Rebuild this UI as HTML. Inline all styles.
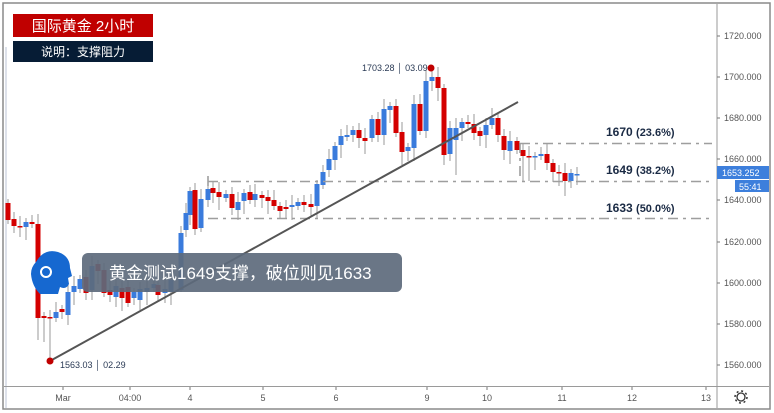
<!DOCTYPE html>
<html><head><meta charset="utf-8"><style>
html,body{margin:0;padding:0;background:#fff;}
body{width:774px;height:413px;overflow:hidden;position:relative;font-family:"Liberation Sans","Noto Sans CJK SC",sans-serif;}
</style></head><body>
<svg id="s" width="774" height="413" viewBox="0 0 774 413" xmlns="http://www.w3.org/2000/svg" style="position:absolute;left:0;top:0">
<rect x="3" y="3" width="767" height="406" fill="#fff" stroke="#8a8a8a" stroke-width="1.5"/>
<line x1="6" y1="47" x2="6" y2="408" stroke="#dde1ea" stroke-width="2"/>
<line x1="717" y1="4" x2="717" y2="408" stroke="#9a9a9a" stroke-width="1"/>
<line x1="4" y1="386.5" x2="769" y2="386.5" stroke="#9a9a9a" stroke-width="1"/>
<g id="cd"></g>
<g stroke="#9e9e9e" stroke-width="1.6" stroke-dasharray="10,5,3,5" fill="none">
<line x1="520" y1="143.5" x2="712" y2="143.5"/>
<line x1="208" y1="181.5" x2="712" y2="181.5"/>
<line x1="208" y1="218.5" x2="712" y2="218.5"/>
<line x1="208" y1="176" x2="208" y2="190"/>
<line x1="520" y1="143" x2="520" y2="181"/>
</g>
<line x1="50" y1="361" x2="518" y2="102" stroke="#555" stroke-width="2"/>
<circle cx="50" cy="361" r="3.5" fill="#c00000"/>
<circle cx="431" cy="68" r="3.5" fill="#c00000"/>
<text x="60" y="368" font-size="9" fill="#2a3a55">1563.03 │ 02.29</text>
<text x="362" y="71" font-size="9" fill="#2a3a55">1703.28 │ 03.09</text>
<g font-size="12" font-weight="bold" fill="#1a2a44">
<text x="606" y="136">1670 <tspan font-size="11">(23.6%)</tspan></text>
<text x="606" y="174">1649 <tspan font-size="11">(38.2%)</tspan></text>
<text x="606" y="212">1633 <tspan font-size="11">(50.0%)</tspan></text>
</g>
<g font-size="9" fill="#555">
<text x="724" y="39">1720.000</text><text x="724" y="80">1700.000</text><text x="724" y="121">1680.000</text>
<text x="724" y="162">1660.000</text><text x="724" y="203">1640.000</text><text x="724" y="245">1620.000</text>
<text x="724" y="286">1600.000</text><text x="724" y="327">1580.000</text><text x="724" y="368">1560.000</text>
</g>
<g stroke="#777"><line x1="717" y1="36" x2="720" y2="36"/><line x1="717" y1="77" x2="720" y2="77"/><line x1="717" y1="118" x2="720" y2="118"/><line x1="717" y1="159" x2="720" y2="159"/><line x1="717" y1="200" x2="720" y2="200"/><line x1="717" y1="242" x2="720" y2="242"/><line x1="717" y1="283" x2="720" y2="283"/><line x1="717" y1="324" x2="720" y2="324"/><line x1="717" y1="365" x2="720" y2="365"/></g>
<rect x="717" y="166" width="52" height="13" fill="#3d7fdc"/>
<text x="722" y="176" font-size="9" fill="#fff">1653.252</text>
<rect x="735" y="180" width="34" height="12" fill="#3d7fdc"/>
<text x="739" y="190" font-size="9" fill="#fff">55:41</text>
<g font-size="9" fill="#555" text-anchor="middle">
<text x="63" y="401">Mar</text><text x="130" y="401">04:00</text><text x="190" y="401">4</text><text x="263" y="401">5</text><text x="336" y="401">6</text><text x="427" y="401">9</text><text x="487" y="401">10</text><text x="562" y="401">11</text><text x="632" y="401">12</text><text x="706" y="401">13</text>
</g>
<g stroke="#777"><line x1="63" y1="387" x2="63" y2="390"/><line x1="130" y1="387" x2="130" y2="390"/><line x1="190" y1="387" x2="190" y2="390"/><line x1="263" y1="387" x2="263" y2="390"/><line x1="336" y1="387" x2="336" y2="390"/><line x1="427" y1="387" x2="427" y2="390"/><line x1="487" y1="387" x2="487" y2="390"/><line x1="562" y1="387" x2="562" y2="390"/><line x1="632" y1="387" x2="632" y2="390"/><line x1="706" y1="387" x2="706" y2="390"/></g>
<circle cx="741" cy="397" r="4" fill="none" stroke="#333" stroke-width="1.3"/>
<circle cx="741" cy="397" r="6" fill="none" stroke="#333" stroke-width="1.5" stroke-dasharray="2,2.7"/>
<rect x="82" y="253" width="320" height="39" rx="6" fill="#5d6a7c" fill-opacity="0.92"/>
<text x="109" y="279" font-size="17" fill="#fff" font-family="'Liberation Sans','Noto Sans CJK SC',sans-serif">黄金测试1649支撑，破位则见1633</text>
<g fill="#1668d0">
<path d="M36 262 Q44 248 58 252 Q70 256 70 268 L72 276 L68 278 L69 284 Q66 290 60 287 L58 294 L40 294 Q32 286 31 274 Q31 267 36 262Z"/>
</g>
<circle cx="46" cy="272" r="5" fill="none" stroke="#fff" stroke-width="2"/>
<rect x="13" y="14" width="140" height="23" fill="#c00000"/>
<text x="83" y="31" font-size="15" fill="#fff" text-anchor="middle">国际黄金  2小时</text>
<rect x="13" y="41" width="140" height="21" fill="#061c35"/>
<text x="83" y="56" font-size="12" fill="#fff" text-anchor="middle">说明：支撑阻力</text>
</svg>
<script>
var d=[[8,203,220],[14,219,226],[20,226,227],[26,227,222],[32,222,224],[38,224,318],[44,316,318],[50,317,318],[56,318,312],[62,309,312],[68,315,292],[74,292,286],[80,289,279],[86,277,293],[92,290,266],[98,264,271],[104,270,293],[110,290,295],[116,297,286],[122,288,298],[128,287,303],[134,298,292],[140,300,289],[147,292,288],[154,288,284],[158,285,295],[165,293,289],[171,292,280],[181,290,233],[186,230,213],[190,215,191],[195,190,229],[201,228,199],[208,200,189],[213,188,193],[219,192,197],[226,198,194],[232,194,208],[238,210,202],[244,201,193],[250,192,200],[255,200,194],[262,195,198],[268,197,201],[274,200,206],[280,206,211],[286,207,209],[292,207,205],[298,206,202],[304,202,205],[311,204,207],[317,206,184],[323,185,172],[329,170,159],[335,160,146],[341,145,136],[347,137,135],[353,135,130],[359,130,138],[365,138,141],[372,138,119],[378,119,135],[384,135,109],[390,110,106],[396,106,133],[402,132,152],[408,151,147],[414,148,104],[420,104,131],[426,131,81],[432,81,77],[438,77,88],[444,88,155],[450,154,128],[456,140,128],[462,128,122],[468,122,124],[474,124,133],[480,131,136],[486,135,125],[492,125,118],[498,118,135],[504,136,150],[510,151,141],[517,141,150],[523,150,156],[529,156,157],[535,157,156],[541,156,154],[547,154,163],[553,163,172],[559,172,173],[565,173,181],[571,181,173],[577,175,174]];
var lo={50:361,44:342,38:340,456:175,444:165,402:165,565:196,523:181,529:181,195:235,232:215,181:292};
var hi={431:68,432:68,426:70,414:95,208:176,116:280};
var s='';
d.forEach(function(c,i){var x=c[0],o=c[1],cl=c[2],t=Math.min(o,cl),b=Math.max(o,cl);var up=cl<o;
var col=up?'#3a7bdc':'#d40000';var h=hi[x]||t-4-(i%3)*3,l=lo[x]||b+4+(i%4)*3;
s+='<line x1="'+x+'" y1="'+h+'" x2="'+x+'" y2="'+l+'" stroke="#999" stroke-width="1"/>';
s+='<rect x="'+(x-2.5)+'" y="'+t+'" width="5" height="'+Math.max(1.5,b-t)+'" fill="'+col+'"/>';});
document.getElementById('cd').innerHTML=s;
</script>
</body></html>
